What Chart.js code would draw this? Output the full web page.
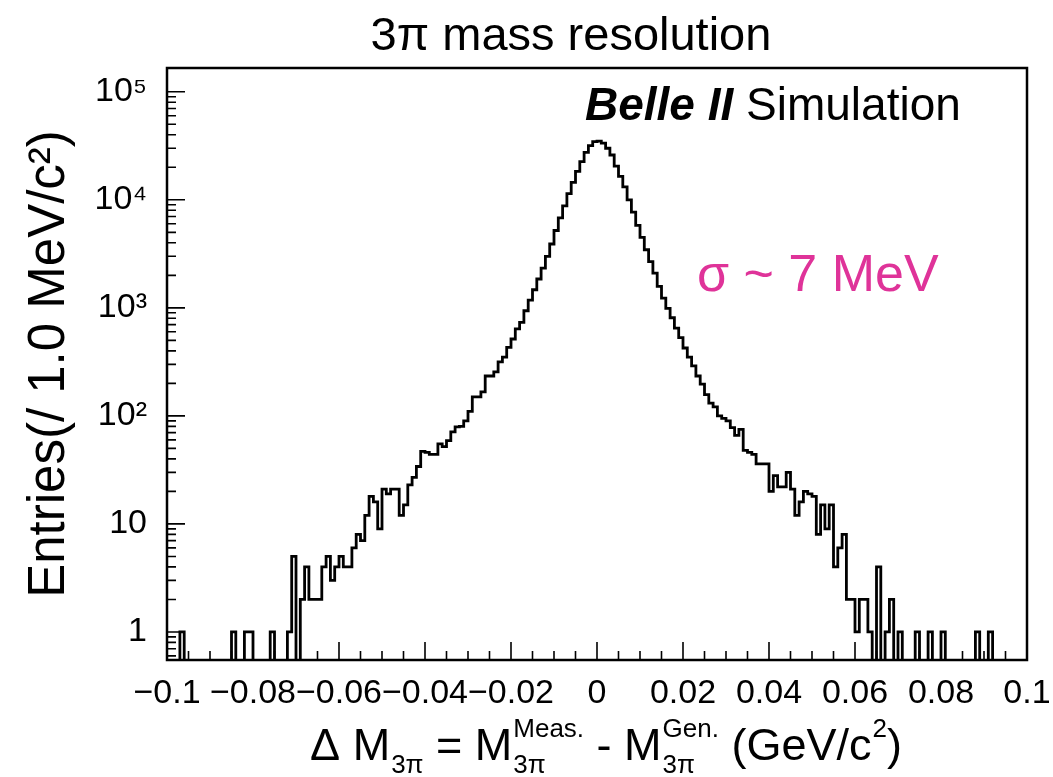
<!DOCTYPE html>
<html>
<head>
<meta charset="utf-8">
<title>3π mass resolution</title>
<script src="https://cdn.jsdelivr.net/npm/chart.js@4.4.1/dist/chart.umd.min.js"></script>
<style>
  html, body { margin: 0; padding: 0; background: #fff; }
</style>
</head>
<body>
<canvas id="massChart" width="1053" height="777"></canvas>
<script>
// Histogramme ΔM(3π) : 200 bins de 1 MeV entre -0.1 et 0.1 GeV
const xMin = -0.1;
const xMax = 0.1;
const binWidth = 0.001;

// contenu des bins (20 par ligne)
const binCounts = [
    0, 0, 0, 1, 0, 0, 0, 0, 0, 0, 0, 0, 0, 0, 0, 1, 0, 0, 1, 1,
    0, 0, 0, 0, 1, 0, 0, 0, 1, 5, 0, 2, 4, 2, 2, 2, 4, 5, 3, 4,
    5, 4, 4, 6, 8, 7, 12, 18, 16, 9, 21, 19, 21, 21, 12, 15, 23, 27, 34, 47,
    46, 44, 44, 55, 52, 59, 71, 79, 80, 90, 110, 150, 150, 167, 234, 234, 255, 316, 350, 430,
    515, 640, 735, 940, 1180, 1470, 1850, 2330, 3000, 3900, 5200, 6800, 8800, 11400, 14500, 18300, 22600, 27500, 31800, 34500,
    35000, 33500, 30000, 26000, 20500, 16500, 13200, 10000, 7700, 5800, 4500, 3450, 2680, 2100, 1580, 1230, 990, 810, 650, 530,
    425, 350, 290, 234, 197, 157, 131, 121, 100, 95, 90, 78, 66, 75, 48, 46, 44, 36, 36, 36,
    20, 28, 22, 22, 30, 21, 12, 16, 20, 19, 18, 8, 15, 9, 15, 4, 6, 8, 2, 2,
    1, 2, 2, 1, 0, 4, 0, 1, 2, 0, 1, 0, 0, 0, 1, 0, 0, 1, 0, 0,
    1, 0, 0, 0, 0, 0, 0, 0, 1, 0, 0, 1, 0, 0, 0, 0, 0, 0, 0, 0
];

// graduations
const xTickValues = [-0.1, -0.08, -0.06, -0.04, -0.02, 0, 0.02, 0.04, 0.06, 0.08, 0.1];
const xTickLabels = ['\u22120.1', '\u22120.08', '\u22120.06', '\u22120.04', '\u22120.02', '0', '0.02', '0.04', '0.06', '0.08', '0.1'];
const xMinorStep = 0.005;
const yTickValues = [1, 10, 100, 1000, 10000, 100000];
const yTickLabels = ['1', '10', '10²', '10³', '10⁴', '10⁵'];
const yMin = 0.55;
const yMax = 1.66e5;
// les bins vides passent sous l'axe (échelle log), comme dans ROOT
const yFloor = 0.05;

const fontFamily = "'Liberation Sans', Arial, Helvetica, sans-serif";
Chart.defaults.font.family = fontFamily;
Chart.defaults.color = '#000';

// points aux bords gauches des bins, plus le bord droit final
const histPoints = binCounts.map((c, i) => ({ x: xMin + i * binWidth, y: Math.max(c, yFloor) }));
histPoints.push({ x: xMax, y: Math.max(binCounts[binCounts.length - 1], yFloor) });

// cadre + petites graduations vers l'intérieur (style ROOT)
const rootFrame = {
    id: 'rootFrame',
    afterDatasetsDraw(chart) {
        const { ctx, chartArea: a, scales: { x, y } } = chart;
        ctx.save();
        ctx.strokeStyle = '#000';
        ctx.lineWidth = 1.6;
        ctx.beginPath();
        const nx = Math.round((xMax - xMin) / xMinorStep);
        for (let k = 0; k <= nx; k++) {
            const px = x.getPixelForValue(xMin + k * xMinorStep);
            const len = k % 4 === 0 ? 18 : 9;
            ctx.moveTo(px, a.bottom);
            ctx.lineTo(px, a.bottom - len);
        }
        for (let n = -1; n <= 5; n++) {
            for (let m = 1; m <= 9; m++) {
                const v = m * Math.pow(10, n);
                if (v < yMin || v > yMax) continue;
                const py = y.getPixelForValue(v);
                const len = m === 1 ? 18 : 9;
                ctx.moveTo(a.left, py);
                ctx.lineTo(a.left + len, py);
            }
        }
        ctx.stroke();
        ctx.lineWidth = 2.5;
        ctx.strokeRect(a.left, a.top, a.right - a.left, a.bottom - a.top);
        ctx.restore();
    }
};

// textes : titre, Belle II Simulation, sigma, titre de l'axe x avec indices
const rootTexts = {
    id: 'rootTexts',
    afterDraw(chart) {
        const { ctx, chartArea: a } = chart;
        ctx.save();
        ctx.fillStyle = '#000';
        ctx.textBaseline = 'alphabetic';

        ctx.textAlign = 'center';
        ctx.font = '47px ' + fontFamily;
        ctx.fillText('3π mass resolution', 571, 50);

        ctx.textAlign = 'left';
        let bx = a.left + 418;
        const by = a.top + 52;
        ctx.font = 'italic bold 46px ' + fontFamily;
        ctx.fillText('Belle II', bx, by);
        bx += ctx.measureText('Belle II ').width;
        ctx.font = '46px ' + fontFamily;
        ctx.fillText('Simulation', bx, by);

        ctx.fillStyle = '#df3399';
        ctx.font = '52px ' + fontFamily;
        ctx.fillText('σ ~ 7 MeV', a.left + 530, a.top + 223);

        // ΔM_3π = M_3π^Meas. - M_3π^Gen. (GeV/c^2)
        ctx.fillStyle = '#000';
        const big = '45px ' + fontFamily;
        const small = '26px ' + fontFamily;
        const parts = [
            { t: 'Δ M' }, { sub: '3π' }, { t: ' = M' }, { sup: 'Meas.', sub: '3π' },
            { t: ' - M' }, { sup: 'Gen.', sub: '3π' }, { t: ' (GeV/c' }, { sup: '2' }, { t: ')' }
        ];
        const widthOf = p => {
            if (p.t) { ctx.font = big; return ctx.measureText(p.t).width; }
            ctx.font = small;
            return Math.max(p.sup ? ctx.measureText(p.sup).width : 0, p.sub ? ctx.measureText(p.sub).width : 0) + 1;
        };
        const total = parts.reduce((s, p) => s + widthOf(p), 0);
        let tx = 606 - total / 2;
        const base = 760;
        parts.forEach(p => {
            const w = widthOf(p);
            if (p.t) {
                ctx.font = big;
                ctx.fillText(p.t, tx, base);
            } else {
                ctx.font = small;
                if (p.sup) ctx.fillText(p.sup, tx + 1, base - 23);
                if (p.sub) ctx.fillText(p.sub, tx + 1, base + 13);
            }
            tx += w;
        });
        ctx.restore();
    }
};

const ctx = document.getElementById('massChart').getContext('2d');

const massChart = new Chart(ctx, {
    type: 'line',
    data: {
        datasets: [{
            label: 'ΔM 3π',
            data: histPoints,
            stepped: 'before',
            borderColor: '#000',
            borderWidth: 2.8,
            borderJoinStyle: 'miter',
            pointRadius: 0,
            fill: false
        }]
    },
    options: {
        responsive: false,
        devicePixelRatio: 1,
        animation: false,
        layout: { padding: { left: 0, right: 26, top: 68, bottom: 0 } },
        plugins: {
            legend: { display: false },
            tooltip: { enabled: false },
            title: { display: false }
        },
        scales: {
            x: {
                type: 'linear',
                min: xMin,
                max: xMax,
                afterFit: s => { s.height = 117; s.paddingLeft = 0; s.paddingRight = 0; },
                afterBuildTicks: s => { s.ticks = xTickValues.map(v => ({ value: v })); },
                grid: { display: false, drawTicks: false },
                border: { display: false },
                ticks: {
                    font: { size: 34 },
                    color: '#000',
                    padding: 13,
                    maxRotation: 0,
                    autoSkip: false,
                    callback: v => xTickLabels[xTickValues.indexOf(v)]
                }
            },
            y: {
                type: 'logarithmic',
                min: yMin,
                max: yMax,
                afterFit: s => { s.width = 167; s.paddingTop = 0; s.paddingBottom = 0; },
                afterBuildTicks: s => { s.ticks = yTickValues.map(v => ({ value: v })); },
                grid: { display: false, drawTicks: false },
                border: { display: false },
                ticks: {
                    font: { size: 34 },
                    color: '#000',
                    padding: 20,
                    autoSkip: false,
                    callback: v => yTickLabels[yTickValues.indexOf(v)]
                },
                title: {
                    display: true,
                    text: 'Entries(/ 1.0 MeV/c²)',
                    font: { size: 51 },
                    color: '#000',
                    padding: { top: 19, bottom: 0 }
                }
            }
        }
    },
    plugins: [rootFrame, rootTexts]
});
</script>
</body>
</html>
